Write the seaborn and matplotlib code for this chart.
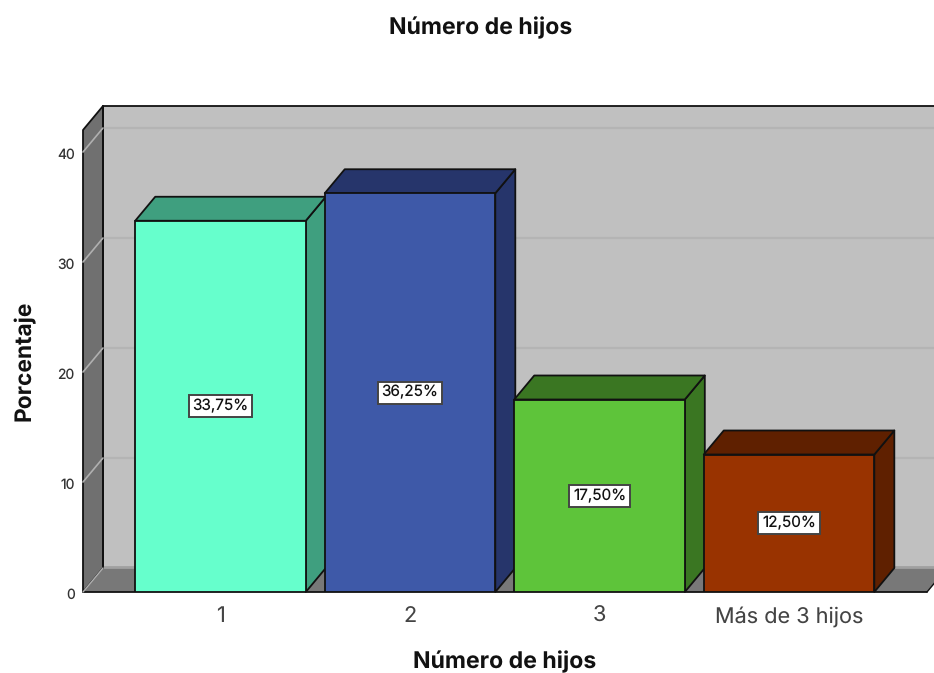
import matplotlib
matplotlib.use('Agg')
import matplotlib.pyplot as plt
from matplotlib.patches import Polygon
from matplotlib.transforms import ScaledTranslation
import pandas as pd
import seaborn as sns

categories = ['1', '2', '3', 'Más de 3 hijos']
percentages = [33.75, 36.25, 17.50, 12.50]
y_ticks = [0, 10, 20, 30, 40]

front_colors = ['#66FFCC', '#3E59A8', '#5EC43A', '#993300']
side_colors = ['#3F9F7F', '#26356B', '#3A7622', '#5F2000']

WALL = '#C0C0C0'
SIDE_WALL = '#707070'
FLOOR = '#787878'
GRID_BACK = '#B4B4B4'
GRID_SIDE = '#B0B0B0'
EDGE = '#111111'

W, H = 934, 673
LEFT, RIGHT, BASE, TOP = 83, 927, 592, 130
DEPTH_X, DEPTH_Y = 20, 24  # pixels

sns.set_style('white')
plt.rcParams['font.family'] = ['Inter', 'DejaVu Sans']
plt.rcParams['text.hinting'] = 'none'

fig = plt.figure(figsize=(W / 100, H / 100), dpi=100)
ax = fig.add_axes([LEFT / W, (H - BASE) / H, (RIGHT - LEFT) / W, (BASE - TOP) / H])

df = pd.DataFrame({'hijos': categories, 'pct': percentages})
sns.barplot(data=df, x='hijos', y='pct', hue='hijos', palette=front_colors, legend=False,
            width=0.9, saturation=1, edgecolor=EDGE, linewidth=1.3, ax=ax)

ax.set_xlim(-0.7256, 3.728)
ax.set_ylim(0, 42)
ax.patch.set_alpha(0)
for s in ax.spines.values():
    s.set_visible(False)

# size of the 3d offset in data units
px_x = (ax.get_xlim()[1] - ax.get_xlim()[0]) / (RIGHT - LEFT)
px_y = 42 / (BASE - TOP)
dx = DEPTH_X * px_x
dy = DEPTH_Y * px_y
x0, x1 = ax.get_xlim()
y0, y1 = ax.get_ylim()


def poly(points, face, z, lw=1.3, edge=EDGE):
    ax.add_patch(Polygon(points, closed=True, facecolor=face, edgecolor=edge,
                         linewidth=lw, zorder=z, clip_on=False, joinstyle='round'))


# walls and floor
poly([(x0 + dx, y0 + dy), (x1 + dx, y0 + dy), (x1 + dx, y1 + dy), (x0 + dx, y1 + dy)], WALL, 0.1)
poly([(x0, y0), (x0 + dx, y0 + dy), (x0 + dx, y1 + dy), (x0, y1)], SIDE_WALL, 0.2)
poly([(x0, y0), (x1, y0), (x1 + dx, y0 + dy), (x0 + dx, y0 + dy)], FLOOR, 0.2, lw=0, edge='none')
ax.plot([x0, x1], [y0, y0], color=EDGE, lw=1.3, zorder=0.3, clip_on=False)
ax.plot([x0 + dx, x0 + dx], [y0 + dy, y1 + dy], color=EDGE, lw=1.3, zorder=0.3, clip_on=False)
ax.plot([x0, x0 + dx], [y0, y0 + dy], color=GRID_SIDE, lw=1, zorder=0.3, clip_on=False)
ax.plot([x1, x1 + dx], [y0, y0 + dy], color=EDGE, lw=1, zorder=0.3, clip_on=False)
ax.plot([x0 + dx, x1 + dx], [y0 + dy * 1.05, y0 + dy * 1.05], color='#A0A0A0', lw=2,
        zorder=0.25, clip_on=False)

for t in y_ticks[1:]:
    ax.plot([x0 + dx, x1 + dx], [t + dy, t + dy], color=GRID_BACK, lw=1.6, zorder=0.15, clip_on=False)
    ax.plot([x0, x0 + dx], [t, t + dy], color=GRID_SIDE, lw=1.2, zorder=0.3, clip_on=False)

# 3d bars, left to right so each one covers the side of the previous
for i, bar in enumerate(ax.patches[:len(categories)]):
    bx, bw, bh = bar.get_x(), bar.get_width(), bar.get_height()
    z = 2 + i
    poly([(bx + bw, 0), (bx + bw + dx, dy), (bx + bw + dx, bh + dy), (bx + bw, bh)], side_colors[i], z)
    poly([(bx, bh), (bx + bw, bh), (bx + bw + dx, bh + dy), (bx + dx, bh + dy)], side_colors[i], z)
    bar.set_zorder(z + 0.5)
    ax.text(bx + bw / 2, bh / 2, f'{percentages[i]:.2f}%'.replace('.', ','),
            ha='center', va='center', fontsize=11, color='#111111', zorder=10,
            bbox=dict(boxstyle='square,pad=0.24', facecolor='white', edgecolor='#444444', linewidth=1.4))

ax.set_yticks(y_ticks)
ax.set_yticklabels([str(t) for t in y_ticks], fontsize=10, color='#333333')
ax.tick_params(axis='y', length=0, pad=6)
ax.tick_params(axis='x', length=0, pad=10, labelsize=15.6, labelcolor='#444444')
shift = ScaledTranslation(0, -2 / 100, fig.dpi_scale_trans)
for lab in ax.get_yticklabels():
    lab.set_transform(lab.get_transform() + shift)

ax.set_xlabel('')
ax.set_ylabel('')
fig.text(481 / W, 1 - 27.5 / H, 'Número de hijos', ha='center', va='center', fontsize=16.6, fontweight='bold', color='#111111')
fig.text(505 / W, 1 - 661.5 / H, 'Número de hijos', ha='center', va='center', fontsize=16.6, fontweight='bold', color='#111111')
fig.text(24 / W, 1 - 361 / H, 'Porcentaje', ha='center', va='center', rotation=90, fontsize=16.4, fontweight='bold', color='#111111')

fig.savefig('out.png', dpi=100)
